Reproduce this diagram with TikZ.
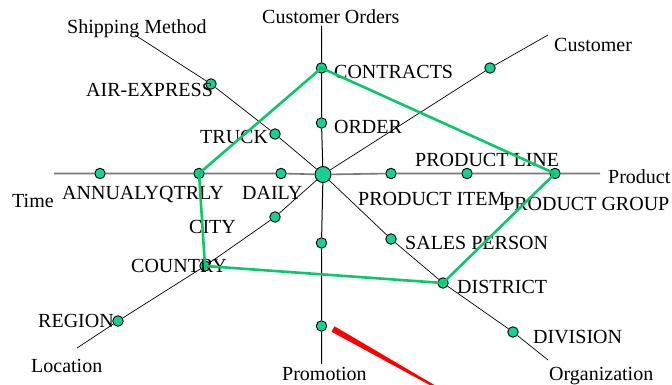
\documentclass[tikz,border=0pt]{standalone}
\usepackage{fontspec}
\setmainfont{Liberation Serif}
\definecolor{dotgreen}{RGB}{20,210,150}
\definecolor{linkgreen}{RGB}{10,200,105}
\definecolor{axisgray}{RGB}{120,120,120}
\begin{document}
\begin{tikzpicture}[x=1pt,y=-1pt,
  dot/.style={circle,draw=black,line width=0.9pt,fill=dotgreen,inner sep=0pt,minimum size=10.5pt},
  hub/.style={circle,draw=black,line width=0.9pt,fill=dotgreen,inner sep=0pt,minimum size=16pt},
  lbl/.style={anchor=base west,inner sep=0pt,font=\fontsize{20}{24}\selectfont},
  axis/.style={line width=0.7pt},
  link/.style={draw=linkgreen,line width=2.6pt,line join=round}]
\useasboundingbox (0,0) rectangle (672,385);
\coordinate (ordersend) at (321.5,26);
\coordinate (promoend) at (321.5,364);
\coordinate (timeend) at (54,173.5);
\coordinate (productend) at (600,173.5);
\coordinate (shipend) at (135,35);
\coordinate (custend) at (548,35);
\coordinate (locend) at (77,348);
\coordinate (orgend) at (548,360);
\node[hub] (hub) at (323,174.5) {};
\node[dot] (contracts) at (321.5,68) {};
\node[dot] (order) at (321.5,123) {};
\node[dot] (promoa) at (321.5,243) {};
\node[dot] (promob) at (321.5,326) {};
\node[dot] (annual) at (100,173.5) {};
\node[dot] (qtrly) at (199,173.5) {};
\node[dot] (daily) at (281,173.5) {};
\node[dot] (item) at (391,173.5) {};
\node[dot] (pline) at (467,173.5) {};
\node[dot] (group) at (555,173.5) {};
\node[dot] (air) at (211,84) {};
\node[dot] (truck) at (275,134) {};
\node[dot] (cust) at (490,68) {};
\node[dot] (city) at (275,217) {};
\node[dot] (country) at (205,266) {};
\node[dot] (region) at (118,321) {};
\node[dot] (sales) at (391,239) {};
\node[dot] (district) at (443,283) {};
\node[dot] (division) at (513,332) {};
\draw[line width=1pt] (ordersend) -- (contracts) -- (order) -- (hub) -- (promoa) -- (promob) -- (promoend);
\draw[axisgray,line width=1.6pt] (timeend) -- (annual) -- (qtrly) -- (daily) -- (hub) -- (item) -- (pline) -- (group) -- (productend);
\draw[axis] (shipend) -- (air) -- (truck) -- (hub);
\draw[axis] (custend) -- (cust) -- (hub);
\draw[axis] (locend) -- (region) -- (country) -- (city) -- (hub);
\draw[axis] (hub) -- (sales) -- (district) -- (division) -- (orgend);
\node[lbl] (tshipping) at (67,34) {Shipping Method};
\node[lbl] (torders) at (262,24) {Customer Orders};
\node[lbl] (tcustomer) at (554,52) {Customer};
\node[lbl] (tcontracts) at (334,79) {CONTRACTS};
\node[lbl] (tair) at (86,97) {AIR-EXPRESS};
\node[lbl] (torder) at (334,134) {ORDER};
\node[lbl] (ttruck) at (200,144) {TRUCK};
\node[lbl] (tline) at (415,167) {PRODUCT LINE};
\node[lbl] (tproduct) at (608,183) {Product};
\node[lbl] (ttime) at (12,207) {Time};
\node[lbl] (tannual) at (62,199) {ANNUALY};
\node[lbl] (tqtrly) at (159,199) {QTRLY};
\node[lbl] (tdaily) at (242,199) {DAILY};
\node[lbl] (titem) at (358,205) {PRODUCT ITEM};
\node[lbl] (tgroup) at (503,210) {PRODUCT GROUP};
\node[lbl] (tcity) at (189,233) {CITY};
\node[lbl] (tsales) at (405,249) {SALES PERSON};
\node[lbl] (tcountry) at (131,272) {COUNTRY};
\node[lbl] (tdistrict) at (457,293) {DISTRICT};
\node[lbl] (tregion) at (38,327) {REGION};
\node[lbl] (tdivision) at (533,343) {DIVISION};
\node[lbl] (tlocation) at (31,372) {Location};
\node[lbl] (tpromotion) at (282,380) {Promotion};
\node[lbl] (torganization) at (549,380) {Organization};
\draw[link] (contracts.center) -- (group.center) -- (district.center) -- (country.center) -- (qtrly.center) -- cycle;
\fill[red] (334.5,326.3) -- (440.5,388.6) -- (439.5,390.4) -- (331.5,331.7) -- cycle;
\end{tikzpicture}
\end{document}
